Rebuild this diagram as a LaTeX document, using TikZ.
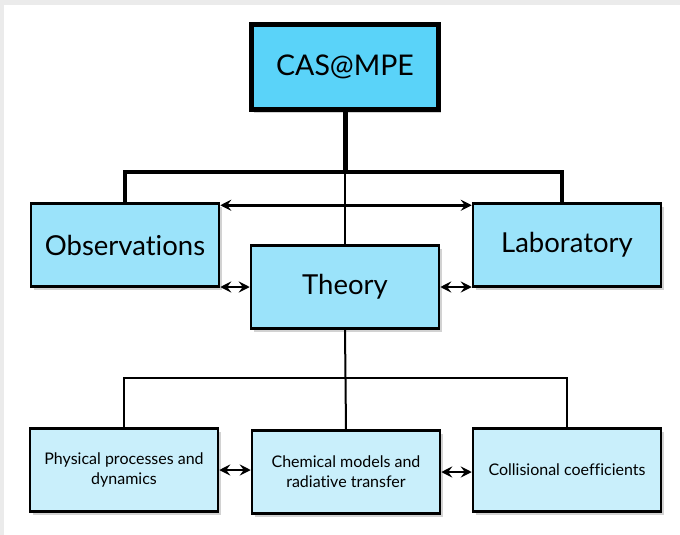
\documentclass[tikz,border=0pt]{standalone}
\usepackage{fontspec}
\setmainfont{Lato}[Ligatures=NoCommon]
\usetikzlibrary{positioning, arrows.meta, shadows}

\definecolor{topblue}{HTML}{5AD3F9}
\definecolor{midblue}{HTML}{9BE3FA}
\definecolor{lowblue}{HTML}{C9EFFB}
\definecolor{pagerim}{HTML}{EBEBEB}

\begin{document}
\begin{tikzpicture}[x=1pt, y=-1pt,
    box/.style={draw, line width=2.5pt, minimum width=188pt, minimum height=83pt,
        align=center, text=black,
        drop shadow={shadow xshift=2.5pt, shadow yshift=-3pt, opacity=.35}},
    tip/.tip={Stealth[length=11pt, width=11pt, inset=4pt]},
    link/.style={line width=2.5pt, tip-tip}]
    \useasboundingbox (0,0) rectangle (680,535);
    \fill[white] (0,0) rectangle (680,535);
    \fill[pagerim] (0,0) rectangle (680,5);
    \fill[pagerim] (0,0) rectangle (4,535);

    \node[box, fill=topblue, line width=5pt, minimum width=187pt, minimum height=85pt,
        font=\fontsize{28.5}{32}\selectfont] (cas) at (345,67) {CAS@MPE};

    \node[box, fill=midblue, font=\fontsize{27.5}{32}\selectfont] (obs) at (125,245) {Observations};
    \node[box, fill=midblue, font=\fontsize{27.5}{32}\selectfont] (theory) at (345,287) {Theory};
    \node[box, fill=midblue, font=\fontsize{27.5}{32}\selectfont] (lab) at (567,245) {Laboratory};

    \node[box, fill=lowblue, font=\fontsize{16}{20}\selectfont] (phys) at (124,470) {Physical processes and\\dynamics};
    \node[box, fill=lowblue, font=\fontsize{16}{20}\selectfont] (chem) at (346,472) {Chemical models and\\radiative transfer};
    \node[box, fill=lowblue, font=\fontsize{16}{20}\selectfont] (coll) at (567,470) {Collisional coefficients};

    \coordinate (bar) at (345,172);
    \coordinate (fork) at (345,378);

    \draw[line width=2pt] (cas.south) -- (theory.north);
    \draw[line width=5pt] (cas.south) -- (bar);
    \draw[line width=3.5pt] (obs.north) |- (bar) -| ([xshift=-5pt]lab.north);

    \draw[link] ([yshift=-3pt]obs.north east) -- ([yshift=-3pt]obs.north east -| lab.west);
    \draw[link] (obs.east |- theory.west) -- (theory.west);
    \draw[link] (theory.east) -- (lab.west |- theory.east);

    \draw[line width=2pt] (theory.south) -- (chem.north);
    \draw[line width=2pt] (phys.north) |- (fork) -| (coll.north);

    \draw[link] (phys.east) -- (phys.east -| chem.west);
    \draw[link] (chem.east) -- (chem.east -| coll.west);
\end{tikzpicture}
\end{document}
